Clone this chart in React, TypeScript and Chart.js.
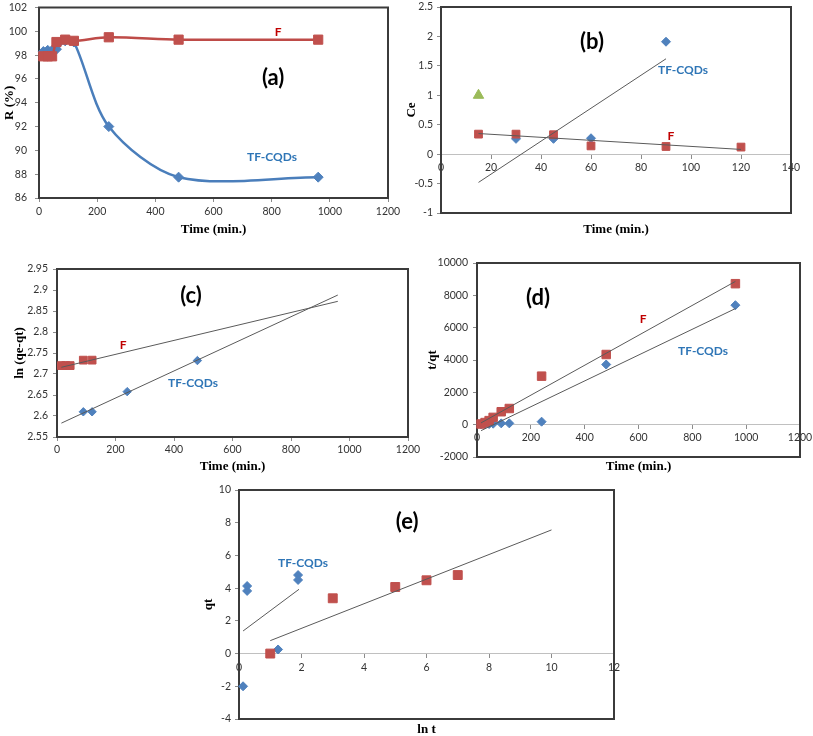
import React, { useEffect, useRef } from 'react';
import { Chart, registerables } from 'chart.js';
Chart.register(...registerables);

// ---------- Panel (a): removal R (%) vs time ----------
const timeA = [15, 30, 45, 60, 90, 120, 240, 480, 960];
const removalF = [97.9, 97.9, 97.9, 99.1, 99.3, 99.2, 99.5, 99.3, 99.3];
const removalTF = [98.3, 98.4, 98.4, 98.5, 99.2, 99.1, 92.0, 87.75, 87.75];
const ticksAX = [0, 200, 400, 600, 800, 1000, 1200];
const ticksAY = [86, 88, 90, 92, 94, 96, 98, 100, 102];

// ---------- Panel (b): Ce vs time ----------
const timeBF = [15, 30, 45, 60, 90, 120];
const ceF = [0.34, 0.34, 0.33, 0.14, 0.13, 0.12];
const timeBTF = [30, 45, 60, 90];
const ceTF = [0.26, 0.26, 0.27, 1.91];
const timeBExtra = [15];
const ceExtra = [1.0];
const trendBTFx = [15, 90];
const trendBTFy = [-0.48, 1.62];
const trendBFx = [15, 120];
const trendBFy = [0.35, 0.08];
const ticksBX = [0, 20, 40, 60, 80, 100, 120, 140];
const ticksBY = [-1, -0.5, 0, 0.5, 1, 1.5, 2, 2.5];

// ---------- Panel (c): ln(qe-qt) vs time ----------
const timeCF = [15, 30, 45, 90, 120];
const lnF = [2.72, 2.72, 2.72, 2.733, 2.733];
const timeCTF = [90, 120, 240, 480];
const lnTF = [2.61, 2.61, 2.658, 2.732];
const trendCFx = [15, 960];
const trendCFy = [2.716, 2.873];
const trendCTFx = [15, 960];
const trendCTFy = [2.583, 2.888];
const ticksCX = [0, 200, 400, 600, 800, 1000, 1200];
const ticksCY = [2.55, 2.6, 2.65, 2.7, 2.75, 2.8, 2.85, 2.9, 2.95];

// ---------- Panel (d): t/qt vs time ----------
const timeD = [15, 30, 45, 60, 90, 120, 240, 480, 960];
const tqF = [40, 130, 250, 450, 800, 1000, 3000, 4340, 8720];
const tqTF = [20, 30, 40, 60, 80, 80, 185, 3720, 7390];
const trendDx = [15, 960];
const trendDFy = [110, 8860];
const trendDTFy = [-370, 7180];
const ticksDX = [0, 200, 400, 600, 800, 1000, 1200];
const ticksDY = [-2000, 0, 2000, 4000, 6000, 8000, 10000];

// ---------- Panel (e): qt vs ln t ----------
const lntF = [1, 3, 5, 6, 7];
const qtF = [0.0, 3.38, 4.07, 4.48, 4.8];
const lntTF = [0.13, 0.26, 0.26, 1.25, 1.89, 1.89];
const qtTF = [-2.0, 4.13, 3.83, 0.25, 4.8, 4.5];
const trendEFx = [1, 10];
const trendEFy = [0.79, 7.56];
const trendETFx = [0.13, 1.92];
const trendETFy = [1.38, 3.93];
const ticksEX = [0, 2, 4, 6, 8, 10, 12];
const ticksEY = [-4, -2, 0, 2, 4, 6, 8, 10];

// ---------- styling ----------
const RED = '#C0504D';
const RED_LINE = '#BE4B48';
const BLUE = '#4F81BD';
const BLUE_LINE = '#4A7EBB';
const GREEN = '#9BBB59';
const TREND = '#5A5A5A';
const LABEL_RED = '#C00000';
const LABEL_BLUE = '#2E75B6';
const SANS = 'Lato, "Liberation Sans", sans-serif';
const SERIF = '"Liberation Serif", "Times New Roman", serif';
const tickFont = { family: SANS, size: 10.5 };
const fmt = (v: any) => String(Math.round(Number(v) * 1000) / 1000);
const pts = (xs: number[], ys: number[]) => xs.map((x, i) => ({ x, y: ys[i] }));

function markers(xs: number[], ys: number[], style: string, color: string, radius: number) {
  return {
    data: pts(xs, ys),
    showLine: false,
    pointStyle: style,
    pointRadius: radius,
    pointHoverRadius: radius,
    pointBackgroundColor: color,
    pointBorderColor: color,
    pointBorderWidth: 1,
    clip: false,
  };
}
function curve(xs: number[], ys: number[], style: string, color: string, lineColor: string, radius: number) {
  return {
    ...markers(xs, ys, style, color, radius),
    showLine: true,
    borderColor: lineColor,
    borderWidth: 2.5,
    tension: 0.3,
  };
}
function trend(xs: number[], ys: number[]) {
  return {
    data: pts(xs, ys),
    showLine: true,
    pointRadius: 0,
    pointHoverRadius: 0,
    borderColor: TREND,
    borderWidth: 1,
    tension: 0,
    clip: false,
  };
}

type Label = { text: string; x: number; y: number; color: string; size: number };
type PanelDef = {
  key: string;
  area: { l: number; t: number; r: number; b: number };
  xAtZero: boolean;
  xMin: number; xMax: number; xTicks: number[]; xPad: number;
  yMin: number; yMax: number; yTicks: number[]; yPad: number;
  xTitle: string; yTitle: string; xTitleGap: number; yTitleGap: number;
  labels: Label[];
  datasets: any[];
};

const big = (text: string, x: number, y: number): Label => ({ text, x, y, color: '#000', size: 22 });
const fLab = (x: number, y: number): Label => ({ text: 'F', x, y, color: LABEL_RED, size: 12 });
const tfLab = (x: number, y: number): Label => ({ text: 'TF-CQDs', x, y, color: LABEL_BLUE, size: 12 });

const panels: PanelDef[] = [
  {
    key: 'a',
    area: { l: 39, t: 5, r: 388, b: 198 },
    xAtZero: false,
    xMin: 0, xMax: 1200, xTicks: ticksAX, xPad: 3.4,
    yMin: 86, yMax: 102, yTicks: ticksAY, yPad: 8,
    xTitle: 'Time (min.)', yTitle: 'R (%)', xTitleGap: 32, yTitleGap: 29,
    labels: [big('(a)', 805, 96.1), fLab(822, 99.9), tfLab(801, 89.4)],
    datasets: [
      curve(timeA, removalF, 'rect', RED, RED_LINE, 6.5),
      curve(timeA, removalTF, 'rectRot', BLUE, BLUE_LINE, 5),
    ],
  },
  {
    key: 'b',
    area: { l: 441, t: 5, r: 791, b: 213 },
    xAtZero: true,
    xMin: 0, xMax: 140, xTicks: ticksBX, xPad: 3.4,
    yMin: -1, yMax: 2.5, yTicks: ticksBY, yPad: 4,
    xTitle: 'Time (min.)', yTitle: 'Ce', xTitleGap: 17, yTitleGap: 29,
    labels: [big('(b)', 60.4, 1.91), tfLab(96.8, 1.42), fLab(92, 0.31)],
    datasets: [
      trend(trendBTFx, trendBTFy),
      trend(trendBFx, trendBFy),
      markers(timeBF, ceF, 'rect', RED, 5.5),
      markers(timeBTF, ceTF, 'rectRot', BLUE, 4.5),
      markers(timeBExtra, ceExtra, 'triangle', GREEN, 6),
    ],
  },
  {
    key: 'c',
    area: { l: 57, t: 269, r: 408, b: 437 },
    xAtZero: false,
    xMin: 0, xMax: 1200, xTicks: ticksCX, xPad: 2,
    yMin: 2.55, yMax: 2.95, yTicks: ticksCY, yPad: 5,
    xTitle: 'Time (min.)', yTitle: 'ln (qe-qt)', xTitleGap: 30, yTitleGap: 37,
    labels: [big('(c)', 458, 2.886), fLab(226, 2.769), tfLab(465, 2.679)],
    datasets: [
      trend(trendCFx, trendCFy),
      trend(trendCTFx, trendCTFy),
      markers(timeCF, lnF, 'rect', RED, 5.5),
      markers(timeCTF, lnTF, 'rectRot', BLUE, 4.2),
    ],
  },
  {
    key: 'd',
    area: { l: 477, t: 263, r: 800, b: 457 },
    xAtZero: true,
    xMin: 0, xMax: 1200, xTicks: ticksDX, xPad: 2.4,
    yMin: -2000, yMax: 10000, yTicks: ticksDY, yPad: 5,
    xTitle: 'Time (min.)', yTitle: 't/qt', xTitleGap: 10, yTitleGap: 44,
    labels: [big('(d)', 227, 7840), fLab(617, 6540), tfLab(840, 4570)],
    datasets: [
      trend(trendDx, trendDFy),
      trend(trendDx, trendDTFy),
      markers(timeD, tqF, 'rect', RED, 6),
      markers(timeD, tqTF, 'rectRot', BLUE, 4.5),
    ],
  },
  {
    key: 'e',
    area: { l: 239, t: 490, r: 614, b: 719 },
    xAtZero: true,
    xMin: 0, xMax: 12, xTicks: ticksEX, xPad: 3.4,
    yMin: -4, yMax: 10, yTicks: ticksEY, yPad: 4,
    xTitle: 'ln t', yTitle: 'qt', xTitleGap: 11, yTitleGap: 30,
    labels: [big('(e)', 5.38, 8.07), tfLab(2.05, 5.5)],
    datasets: [
      trend(trendETFx, trendETFy),
      trend(trendEFx, trendEFy),
      markers(lntF, qtF, 'rect', RED, 6.3),
      markers(lntTF, qtTF, 'rectRot', BLUE, 4.5),
    ],
  },
];

const X_H = 20;

function makeDeco(p: PanelDef) {
  return {
    id: 'deco_' + p.key,
    beforeDatasetsDraw(chart: any) {
      const { ctx, chartArea: a } = chart;
      ctx.save();
      ctx.strokeStyle = '#3b3b3b';
      ctx.lineWidth = 2;
      ctx.strokeRect(a.left, a.top, a.right - a.left, a.bottom - a.top);
      ctx.restore();
    },
    afterDatasetsDraw(chart: any) {
      const { ctx, chartArea: a, scales } = chart;
      ctx.save();
      ctx.fillStyle = '#000';
      ctx.textAlign = 'center';
      ctx.textBaseline = 'middle';
      ctx.font = 'bold 13px ' + SERIF;
      ctx.fillText(p.xTitle, (a.left + a.right) / 2, a.bottom + p.xTitleGap);
      ctx.save();
      ctx.translate(a.left - p.yTitleGap, (a.top + a.bottom) / 2);
      ctx.rotate(-Math.PI / 2);
      ctx.fillText(p.yTitle, 0, 0);
      ctx.restore();
      for (const l of p.labels) {
        ctx.font = 'bold ' + l.size + 'px ' + SANS;
        ctx.fillStyle = l.color;
        ctx.fillText(l.text, scales.x.getPixelForValue(l.x), scales.y.getPixelForValue(l.y));
      }
      ctx.restore();
    },
  };
}

function makeConfig(p: PanelDef): any {
  const zero = p.xAtZero;
  return {
    type: 'scatter',
    data: { datasets: p.datasets },
    plugins: [makeDeco(p)],
    options: {
      responsive: false,
      animation: false,
      devicePixelRatio: 1,
      events: [],
      layout: {
        padding: {
          left: 0,
          top: p.area.t,
          right: 813 - p.area.r,
          bottom: zero ? 736 - p.area.b : 736 - p.area.b - X_H,
        },
      },
      scales: {
        x: {
          type: 'linear',
          min: p.xMin,
          max: p.xMax,
          position: zero ? { y: 0 } : 'bottom',
          afterBuildTicks: (s: any) => {
            s.ticks = p.xTicks.map((v) => ({ value: v }));
          },
          afterFit: (s: any) => {
            if (!zero) s.height = X_H;
            s.paddingLeft = 0;
            s.paddingRight = 0;
          },
          grid: { display: true, drawOnChartArea: false, drawTicks: true, tickLength: 4, color: '#8c8c8c' },
          border: { display: true, color: zero ? '#c0c0c0' : '#3b3b3b', width: 1 },
          ticks: { autoSkip: false, maxRotation: 0, padding: p.xPad, font: tickFont, color: '#333', callback: fmt },
        },
        y: {
          type: 'linear',
          min: p.yMin,
          max: p.yMax,
          position: 'left',
          afterBuildTicks: (s: any) => {
            s.ticks = p.yTicks.map((v) => ({ value: v }));
          },
          afterFit: (s: any) => {
            s.width = p.area.l;
            s.paddingTop = 0;
            s.paddingBottom = 0;
          },
          grid: { display: true, drawOnChartArea: false, drawTicks: true, tickLength: 4, color: '#8c8c8c' },
          border: { display: true, color: '#3b3b3b', width: 1 },
          ticks: { autoSkip: false, padding: p.yPad, font: tickFont, color: '#333', callback: fmt },
        },
      },
      plugins: {
        legend: { display: false },
        tooltip: { enabled: false },
        title: { display: false },
      },
    },
  };
}

function Panel({ def }: { def: PanelDef }) {
  const ref = useRef<HTMLCanvasElement>(null);
  useEffect(() => {
    const chart = new Chart(ref.current as HTMLCanvasElement, makeConfig(def));
    return () => chart.destroy();
  }, [def]);
  return (
    <canvas
      ref={ref}
      width={813}
      height={736}
      style={{ position: 'absolute', left: 0, top: 0, width: 813, height: 736 }}
    />
  );
}

export default function App() {
  return (
    <div style={{ position: 'absolute', left: 0, top: 0, width: 813, height: 736, background: '#fff' }}>
      {panels.map((p) => (
        <Panel key={p.key} def={p} />
      ))}
    </div>
  );
}
